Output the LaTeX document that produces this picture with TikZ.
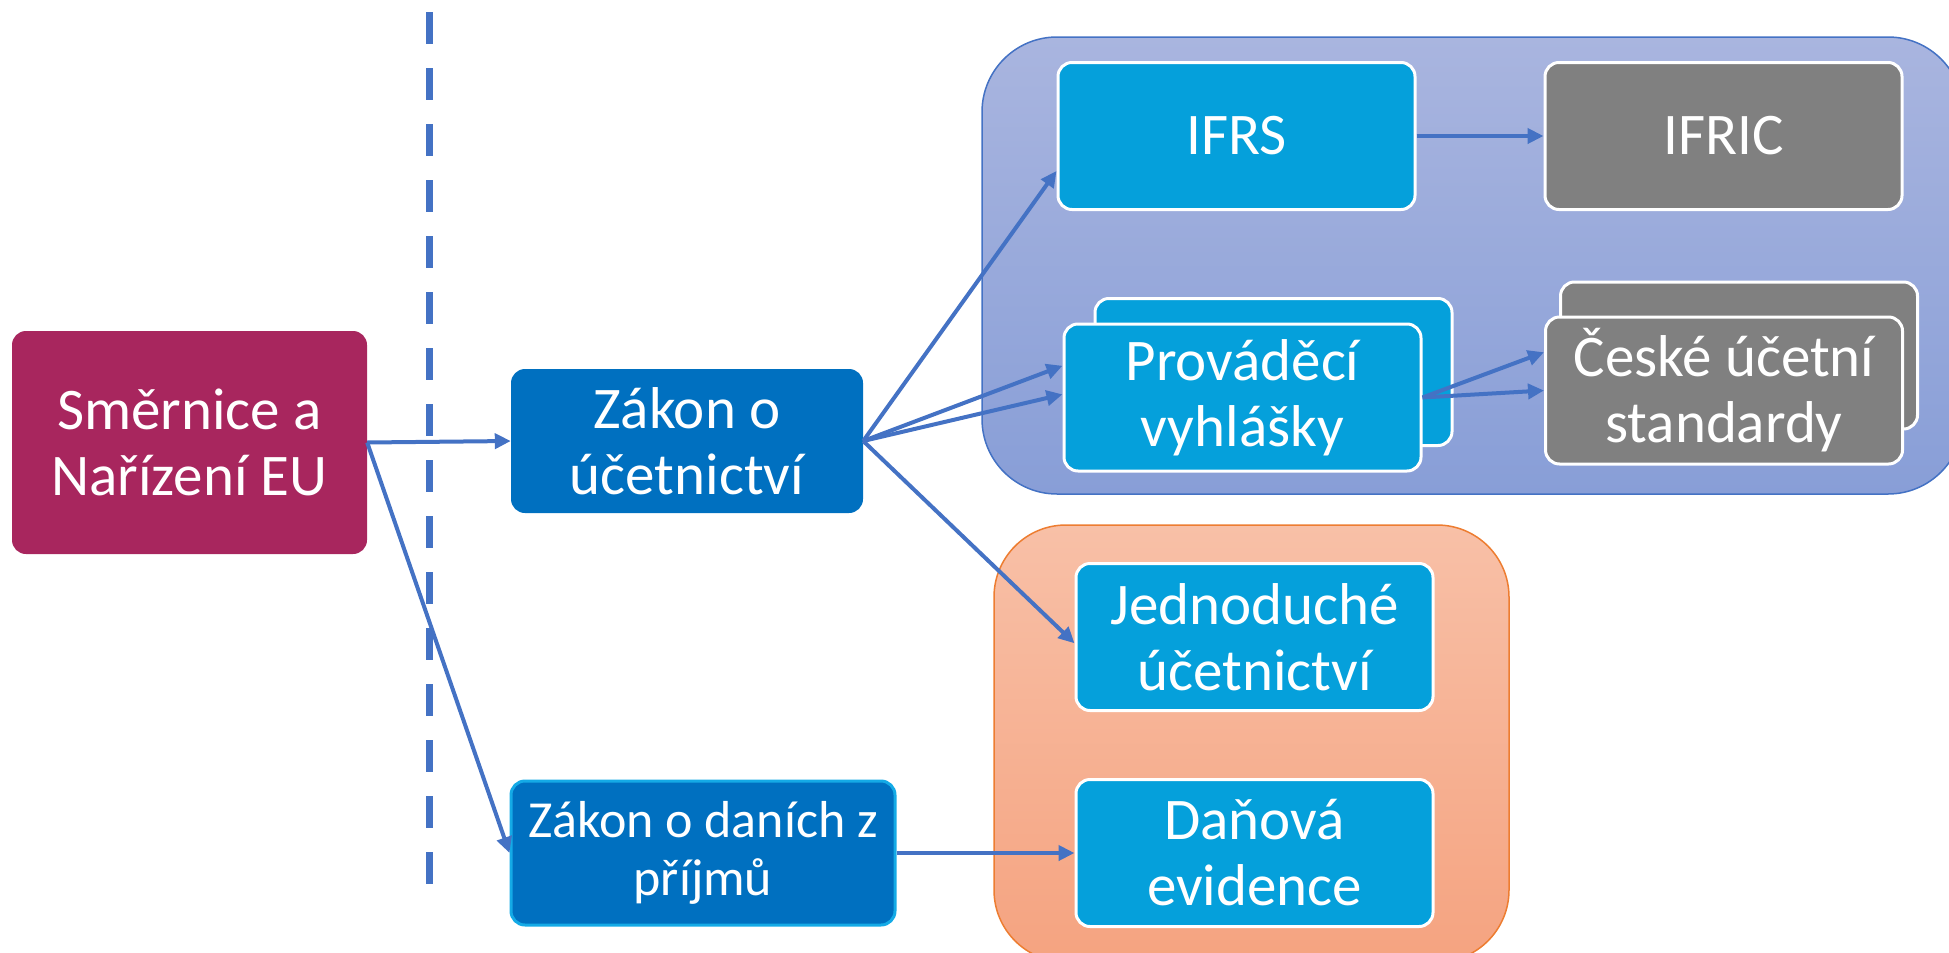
\documentclass[tikz,border=0pt]{standalone}
\usepackage{fontspec}
\setmainfont{Carlito}
\usetikzlibrary{arrows.meta}
\definecolor{smercol}{RGB}{168,38,94}
\definecolor{tmavamodra}{RGB}{0,112,192}
\definecolor{svetlamodra}{RGB}{5,160,219}
\definecolor{okrajzdp}{RGB}{20,170,230}
\definecolor{sedabarva}{RGB}{128,128,128}
\definecolor{sipkacol}{RGB}{68,114,196}
\definecolor{modrahore}{RGB}{169,181,223}
\definecolor{modradole}{RGB}{136,158,215}
\definecolor{oranzhore}{RGB}{248,192,167}
\definecolor{oranzdole}{RGB}{245,163,128}
\definecolor{oranzokraj}{RGB}{237,125,49}
\tikzset{
  box/.style={rectangle, rounded corners=14pt, text=white, align=center, inner sep=0pt,
    font=\fontsize{59}{66}\selectfont, minimum width=357pt, minimum height=147pt},
  svetla/.style={box, fill=svetlamodra, draw=white, line width=3pt},
  seda/.style={box, fill=sedabarva, draw=white, line width=3pt},
  tmava/.style={box, fill=tmavamodra},
  sipka/.style={->, draw=sipkacol, line width=4pt},
}
\begin{document}
\begin{tikzpicture}[x=1pt, y=-1pt, >={Triangle[length=16pt,width=15pt]}]
\useasboundingbox (0,0) rectangle (1949,953);
% skupiny v pozadi
\draw[draw=sipkacol, line width=1.5pt, rounded corners=75pt, top color=modrahore, bottom color=modradole]
  (982,37) rectangle (1963,494);
\draw[draw=oranzokraj, line width=1.5pt, rounded corners=72pt, top color=oranzhore, bottom color=oranzdole]
  (994,525) rectangle (1509,962);
% delici cara
\draw[sipkacol, line width=7pt, dash pattern=on 32pt off 24pt] (429,12)--(429,885);
% uzly
\node[box, fill=smercol, minimum width=355pt, minimum height=223pt] (smernice) at (189.5,442.5) {Směrnice a\\Nařízení EU};
\node[tmava, minimum width=352pt, minimum height=144pt] (zakonu) at (687,441) {Zákon o\\účetnictví};
\node[tmava, draw=okrajzdp, line width=3pt, minimum width=384pt, minimum height=144pt,
  font=\fontsize{52}{58}\selectfont] (zakondp) at (703,853) {Zákon o daních z\\příjmů};
\node[svetla] (ifrs) at (1236.5,136) {IFRS};
\node[seda] (ifric) at (1723.5,136) {IFRIC};
\node[svetla] (provz) at (1273.5,372) {};
\node[svetla] (prov) at (1242.5,397.5) {Prováděcí\\vyhlášky};
\node[seda] (ceskez) at (1739,355.5) {};
\node[seda] (ceske) at (1724,390.5) {České účetní\\standardy};
\node[svetla] (jednod) at (1254.5,637) {Jednoduché\\účetnictví};
\node[svetla] (danova) at (1254.5,853) {Daňová\\evidence};
% sipky
\draw[sipka] (smernice.east)--(zakonu.west);
\draw[sipka] (smernice.east)--(zakondp.west);
\draw[sipka] (zakonu.east)--(ifrs.191);
\draw[sipka] (zakonu.east)--(prov.170);
\draw[sipka] (zakonu.east)--(prov.179);
\draw[sipka] (zakonu.east)--(jednod.182);
\draw[sipka] (ifrs.east)--(ifric.west);
\draw[sipka] (prov.east)--(ceske.168);
\draw[sipka] (prov.east)--(ceske.west);
\draw[sipka] (zakondp.east)--(danova.west);
\end{tikzpicture}
\end{document}
